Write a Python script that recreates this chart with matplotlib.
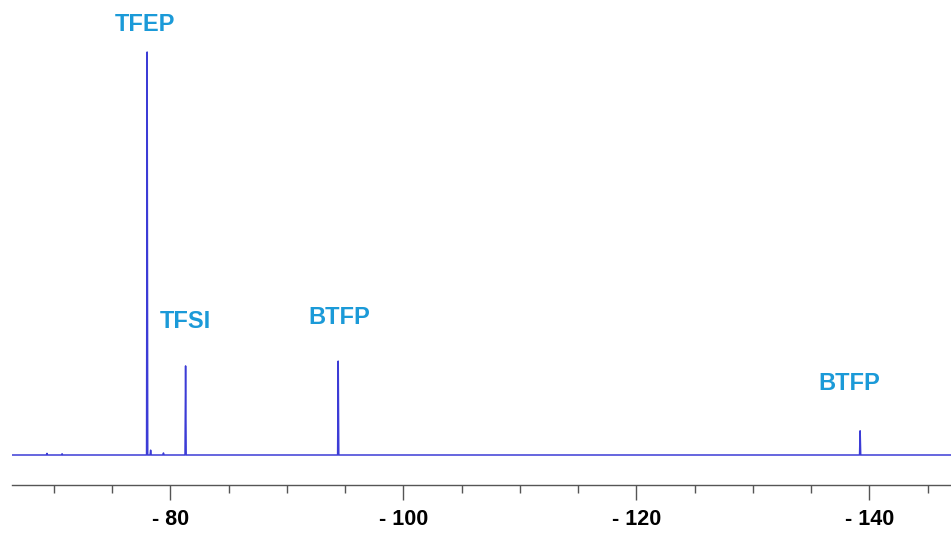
import matplotlib
matplotlib.use("Agg")
import matplotlib.pyplot as plt
from matplotlib.ticker import MultipleLocator, FuncFormatter

# peak positions (ppm) and relative intensities
peak_shift = [-69.4, -70.7, -78.0, -78.3, -79.4, -81.3, -94.4, -139.2]
peak_height = [0.004, 0.003, 1.0, 0.012, 0.005, 0.221, 0.233, 0.06]
peak_width = 0.05

label_text = ["TFEP", "TFSI", "BTFP", "BTFP"]
label_shift = [-77.8, -81.3, -94.5, -138.3]
label_y = [1.067, 0.332, 0.342, 0.177]

x_left, x_right = -66.4, -147.0

# build the stick spectrum line: baseline with narrow triangular peaks
xs = [x_left]
ys = [0.0]
for p, h in sorted(zip(peak_shift, peak_height), reverse=True):
    xs += [p + peak_width, p, p - peak_width]
    ys += [0.0, h, 0.0]
xs.append(x_right)
ys.append(0.0)

fig = plt.figure(figsize=(9.51, 5.33), dpi=100)
ax = fig.add_axes([12 / 951, 48 / 533, 1 - 12 / 951, 485 / 533])
ax.plot(xs, ys, color="#3c3cd6", lw=1.1)

ax.set_xlim(x_left, x_right)
ax.set_ylim(-30 / 403, 455 / 403)

for s in ["top", "left", "right"]:
    ax.spines[s].set_visible(False)
ax.spines["bottom"].set_color("#555555")
ax.spines["bottom"].set_linewidth(1.0)
ax.set_yticks([])

ax.xaxis.set_major_locator(MultipleLocator(20))
ax.xaxis.set_minor_locator(MultipleLocator(5))
ax.xaxis.set_major_formatter(FuncFormatter(lambda v, pos: f"- {abs(v):g}"))
ax.tick_params(axis="x", which="major", length=11, width=1, color="#555555",
               pad=6.5, labelsize=15.5)
ax.tick_params(axis="x", which="minor", length=6, width=1, color="#555555")
for t in ax.get_xticklabels():
    t.set_fontfamily("Liberation Sans")
    t.set_fontweight("bold")

for txt, sx, sy in zip(label_text, label_shift, label_y):
    ax.text(sx, sy, txt, color="#1b9ad8", fontsize=17, fontweight="bold",
            family="Liberation Sans", ha="center", va="center")

fig.savefig("out.png", dpi=100)
